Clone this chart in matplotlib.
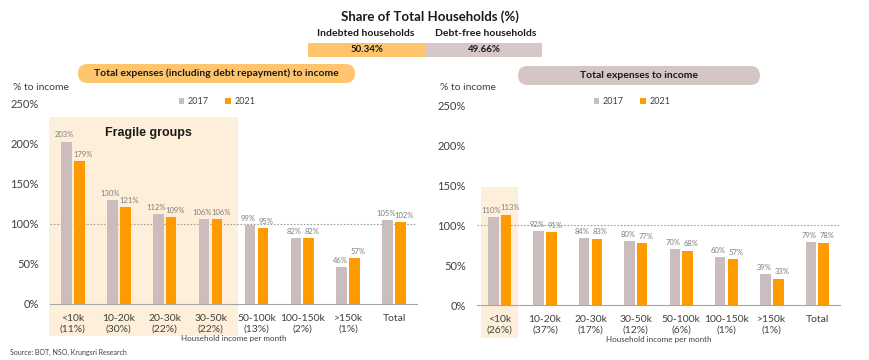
import numpy as np
import matplotlib.pyplot as plt
from matplotlib.patches import Rectangle, FancyBboxPatch

plt.rcParams['font.family'] = ['Lato', 'DejaVu Sans']

# --- data ---
groups = ['<10k', '10-20k', '20-30k', '30-50k', '50-100k', '100-150k', '>150k', 'Total']
share_left = ['11%', '30%', '22%', '22%', '13%', '2%', '1%', None]
share_right = ['26%', '37%', '17%', '12%', '6%', '1%', '1%', None]

debt_2017 = [203, 130, 112, 106, 99, 82, 46, 105]
debt_2021 = [179, 121, 109, 106, 95, 82, 57, 102]
exp_2017 = [110, 92, 84, 80, 70, 60, 39, 79]
exp_2021 = [113, 91, 83, 77, 68, 57, 33, 78]

hh_labels = ['Indebted households', 'Debt-free households']
hh_share = [50.34, 49.66]

C17 = '#CBBDBD'
C21 = '#FF9A00'
SHADE = '#FDEFD9'
TXT = '#404040'
LBL = '#7F7F7F'

fig = plt.figure(figsize=(8.7, 3.6), dpi=100)

# ejes de fondo en pixeles para el encabezado
bg = fig.add_axes([0, 0, 1, 1])
bg.set_xlim(0, 870)
bg.set_ylim(360, 0)
bg.axis('off')

bg.text(430, 17, 'Share of Total Households (%)', ha='center', va='center',
        fontsize=9.5, fontweight='bold', color='#1a1a1a')
bg.text(366, 34, hh_labels[0], ha='center', va='center', fontsize=7.5, fontweight='bold', color='#1a1a1a')
bg.text(486, 34, hh_labels[1], ha='center', va='center', fontsize=7.5, fontweight='bold', color='#1a1a1a')
x0, total_w = 308, 234
w0 = total_w * hh_share[0] / 100
bg.add_patch(Rectangle((x0, 43), w0, 14, color='#FFC56E', lw=0))
bg.add_patch(Rectangle((x0 + w0, 43), total_w - w0, 14, color='#D6C8C8', lw=0))
bg.text(x0 + w0 / 2, 50, f'{hh_share[0]:.2f}%', ha='center', va='center', fontsize=7, fontweight='bold', color='#1a1a1a')
bg.text(x0 + w0 + (total_w - w0) / 2, 50, f'{hh_share[1]:.2f}%', ha='center', va='center', fontsize=7, fontweight='bold', color='#1a1a1a')

# titulos tipo pastilla
bg.add_patch(FancyBboxPatch((78, 64), 277, 19, boxstyle='round,pad=0,rounding_size=9.5',
                            fc='#FFC56E', ec='none'))
bg.text(216, 73.5, 'Total expenses (including debt repayment) to income', ha='center', va='center',
        fontsize=7.5, fontweight='bold', color='#1a1a1a')
bg.add_patch(FancyBboxPatch((518, 66), 242, 19, boxstyle='round,pad=0,rounding_size=9.5',
                            fc='#D6C5C5', ec='none'))
bg.text(639, 75.5, 'Total expenses to income', ha='center', va='center',
        fontsize=7.5, fontweight='bold', color='#1a1a1a')

bg.text(13, 88, '% to income', ha='left', va='center', fontsize=7.5, color=TXT)
bg.text(440, 88, '% to income', ha='left', va='center', fontsize=7.5, color=TXT)
bg.text(10, 352, 'Source: BOT, NSO, Krungsri Research', ha='left', va='center', fontsize=5, color=TXT)


def draw_panel(rect, v17, v21, shares, shade, legend_x):
    ax = fig.add_axes(rect)
    ax.set_facecolor('none')
    x = np.arange(len(groups))
    bw = 0.23
    ax.add_patch(Rectangle((shade[0], shade[2]), shade[1] - shade[0], shade[3] - shade[2],
                           color=SHADE, lw=0, clip_on=False, zorder=0))
    b1 = ax.bar(x - 0.14, v17, bw, color=C17, zorder=2, label='2017')
    b2 = ax.bar(x + 0.14, v21, bw, color=C21, zorder=2, label='2021')
    for xi, v in zip(x, v17):
        ax.text(xi - 0.18, v + 4, f'{v}%', ha='center', va='bottom', fontsize=5.5, color=LBL)
    for xi, v in zip(x, v21):
        ax.text(xi + 0.22, v + 4, f'{v}%', ha='center', va='bottom', fontsize=5.5, color=LBL)
    ax.axhline(100, color='#A0A0A0', ls=(0, (1.5, 1.5)), lw=0.8, zorder=1)
    ax.set_xlim(-0.5, 7.5)
    ax.set_ylim(0, 250)
    ax.set_yticks(range(0, 251, 50))
    ax.set_yticklabels([f'{t}%' for t in range(0, 251, 50)], fontsize=8, color=TXT)
    ax.set_xticks(x)
    ax.set_xticklabels([g if s is None else f'{g}\n({s})' for g, s in zip(groups, shares)],
                       fontsize=7.5, color=TXT, linespacing=1.3, va='top')
    ax.tick_params(length=0, pad=7)
    ax.tick_params(axis='y', pad=8)
    for s in ['left', 'right', 'top']:
        ax.spines[s].set_visible(False)
    ax.spines['bottom'].set_color('#A6A6A6')
    ax.set_xlabel('Household income per month', fontsize=5.8, color=TXT, labelpad=1)
    ax.legend(handles=[b1, b2], loc='center', bbox_to_anchor=(legend_x, 1 - 102 / 360),
              bbox_transform=fig.transFigure, ncol=2, frameon=False, fontsize=6.5,
              handlelength=0.6, handleheight=0.6, columnspacing=1.8, handletextpad=0.4,
              labelcolor=TXT)
    return ax


axl = draw_panel([50 / 870, 56 / 360, 367 / 870, 200 / 360], debt_2017, debt_2021, share_left,
                 (-0.52, 3.6, -40, 234), 217 / 870)
axl.text(1.64, 214, 'Fragile groups', ha='center', va='center', fontsize=9,
         fontweight='bold', family=['Liberation Sans', 'DejaVu Sans'], color='#1a1a1a')

axr = draw_panel([477 / 870, 55 / 360, 363 / 870, 200 / 360], exp_2017, exp_2021, share_right,
                 (-0.42, 0.4, -41, 147), 632 / 870)

fig.savefig('out.png', dpi=100)
